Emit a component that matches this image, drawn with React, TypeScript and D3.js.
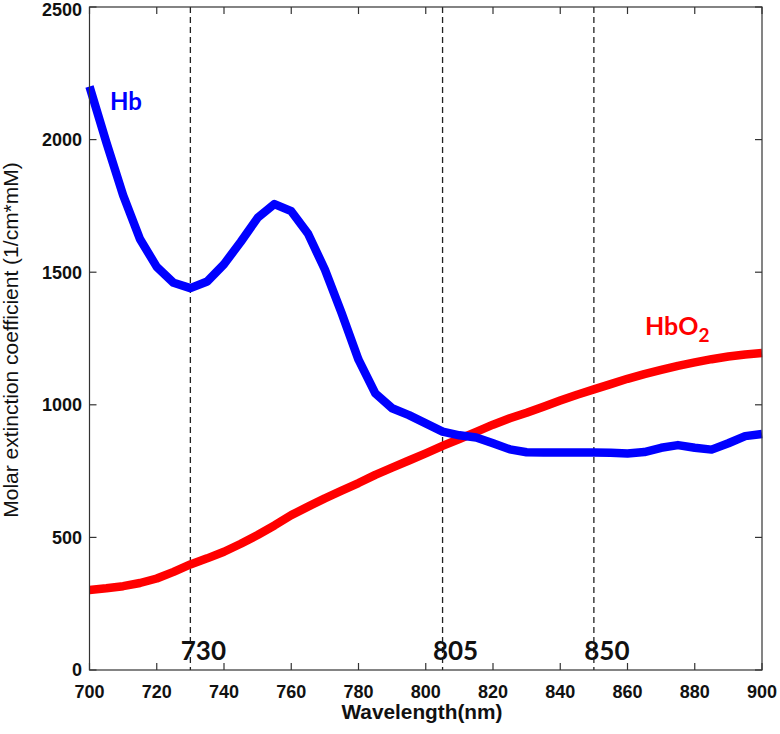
import React from "react";
import * as d3 from "d3";

const wavelengths = [700,705,710,715,720,725,730,735,740,745,750,755,760,765,770,775,780,785,790,795,800,805,810,815,820,825,830,835,840,845,850,855,860,865,870,875,880,885,890,895,900];
const hb = [2200,1990,1790,1625,1520,1460,1440,1465,1530,1615,1705,1757,1730,1645,1510,1345,1170,1043,987,961,930,899,885,877,855,832,821,820,820,820,820,819,816,822,838,848,838,831,855,882,890];
const hbo2 = [302,308,316,328,345,370,398,421,446,476,509,545,584,616,647,676,705,736,763,790,817,845,871,898,925,949,970,993,1016,1038,1058,1078,1098,1116,1132,1147,1160,1172,1182,1190,1195];

const xTicks = [700,720,740,760,780,800,820,840,860,880,900];
const yTicks = [0,500,1000,1500,2000,2500];
const markers = [730,805,850];

const W = 780, H = 734;
const m = { left: 89.5, right: 762, top: 7, bottom: 670 };

export default function App() {
  const x = d3.scaleLinear().domain([700, 900]).range([m.left, m.right]);
  const y = d3.scaleLinear().domain([0, 2500]).range([m.bottom, m.top]);
  const line = d3.line<number>().x((_, i) => x(wavelengths[i])).y((d) => y(d));
  const tickFont = "'Liberation Sans', Arial, sans-serif";
  const labelFont = "Lato, 'Open Sans', sans-serif";
  return (
    <svg width={W} height={H} style={{ position: "absolute", left: 0, top: 0, background: "#fff" }}>
      {markers.map((mk) => (
        <line key={mk} x1={x(mk)} x2={x(mk)} y1={m.top} y2={m.bottom} stroke="#222" strokeWidth={1.3} strokeDasharray="6,4" />
      ))}
      <g>
        <path d={line(hbo2) || ""} fill="none" stroke="#ff0000" strokeWidth={8.5} strokeLinejoin="round" />
        <path d={line(hb) || ""} fill="none" stroke="#0000ff" strokeWidth={8.5} strokeLinejoin="round" />
      </g>
      <rect x={m.left} y={m.top} width={m.right - m.left} height={m.bottom - m.top} fill="none" stroke="#333" strokeWidth={1.2} />
      {xTicks.map((t) => (
        <g key={"x" + t}>
          <line x1={x(t)} x2={x(t)} y1={m.bottom} y2={m.bottom - 7} stroke="#333" strokeWidth={1.2} />
          <line x1={x(t)} x2={x(t)} y1={m.top} y2={m.top + 7} stroke="#333" strokeWidth={1.2} />
          <text x={x(t)} y={698} textAnchor="middle" fontFamily={tickFont} fontWeight="bold" fontSize={18} fill="#111">{t}</text>
        </g>
      ))}
      {yTicks.map((t) => (
        <g key={"y" + t}>
          <line x1={m.left} x2={m.left + 7} y1={y(t)} y2={y(t)} stroke="#333" strokeWidth={1.2} />
          <line x1={m.right} x2={m.right - 7} y1={y(t)} y2={y(t)} stroke="#333" strokeWidth={1.2} />
          <text x={82} y={Math.max(y(t), 10)} dy="0.36em" textAnchor="end" fontFamily={tickFont} fontWeight="bold" fontSize={18} fill="#111">{t}</text>
        </g>
      ))}
      {markers.map((mk) => (
        <text key={"l" + mk} x={x(mk) + 13} y={660} textAnchor="middle" fontFamily={labelFont} fontWeight="bold" fontSize={26} fill="#111">{mk}</text>
      ))}
      <text x={422} y={719} textAnchor="middle" fontFamily={tickFont} fontWeight="bold" fontSize={20} textLength={161} lengthAdjust="spacingAndGlyphs" fill="#111">Wavelength(nm)</text>
      <text transform={`translate(18,${340}) rotate(-90)`} textAnchor="middle" fontFamily={tickFont} fontSize={21} fill="#111">Molar extinction coefficient (1/cm*mM)</text>
      <text x={110} y={110} fontFamily={labelFont} fontWeight="bold" fontSize={24} fill="#0000ff">Hb</text>
      <text x={645} y={335} fontFamily={labelFont} fontWeight="bold" fontSize={25} fill="#ff0000">
        HbO<tspan fontSize={19} dy={7}>2</tspan>
      </text>
    </svg>
  );
}
